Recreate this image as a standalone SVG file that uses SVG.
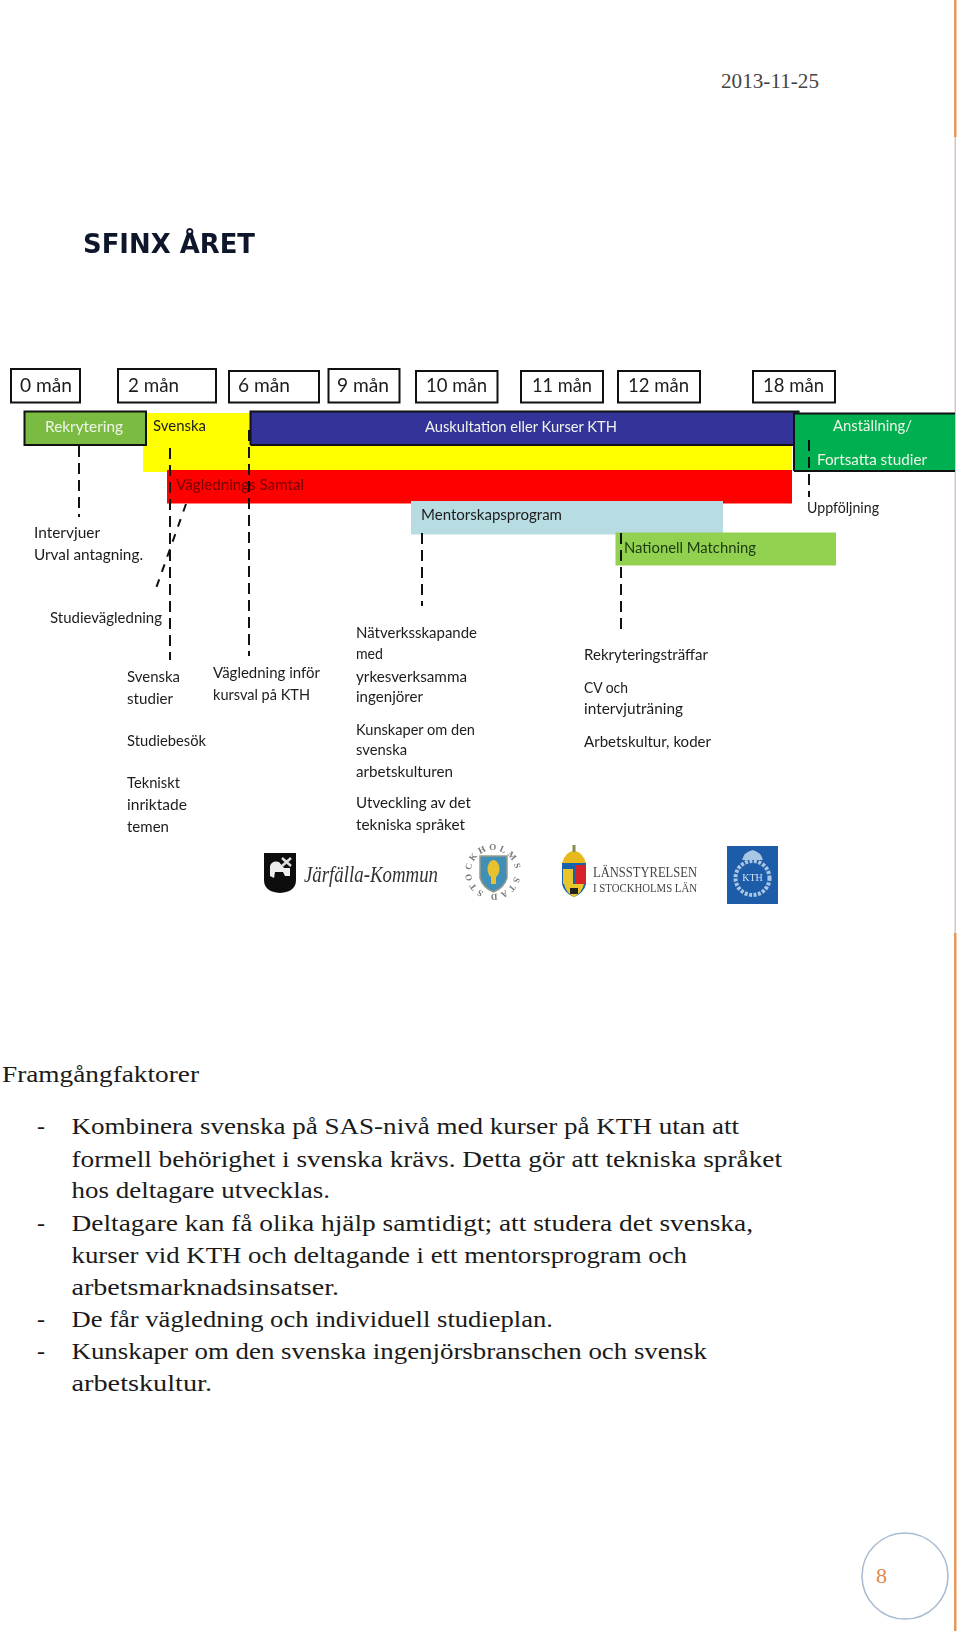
<svg xmlns="http://www.w3.org/2000/svg" xmlns:xlink="http://www.w3.org/1999/xlink" width="960" height="1631" viewBox="0 0 960 1631">
<style>
.body{font-family:"Liberation Serif","Times New Roman",serif;font-size:24px;fill:#1a1a1a}
.c{font-family:Lato,"Open Sans","Liberation Sans",sans-serif;font-size:16px;fill:#1c1c1c}
.m{font-size:19px}
.w{fill:#eef5e8}
.box{fill:#fff;stroke:#111;stroke-width:2}
.dash{fill:none;stroke:#111;stroke-width:2;stroke-dasharray:11 6}
</style>
<defs>
<filter id="soft" x="-5%" y="-20%" width="110%" height="140%"><feGaussianBlur stdDeviation="0.5"/></filter>
<filter id="soft2" x="-5%" y="-5%" width="110%" height="110%"><feGaussianBlur stdDeviation="0.7"/></filter>
<path id="sealring" d="M471 872a22 22 0 1 1 44 0a22 22 0 1 1 -44 0"/>
</defs>
<rect width="960" height="1631" fill="#fff"/>
<g id="page-rule">
<rect x="954.500" y="137" width="1.500" height="796" fill="#d9c6b8"/>
<rect x="954" y="0" width="2.500" height="137" fill="#e8975a"/>
<rect x="954" y="933" width="2.500" height="698" fill="#e8975a"/>
</g>
<text id="date" x="721" y="88" textLength="98" lengthAdjust="spacingAndGlyphs" style="font-family:'Liberation Serif',serif;font-size:20px;fill:#444">2013-11-25</text>
<text id="title" x="83" y="253" textLength="172" lengthAdjust="spacingAndGlyphs" filter="url(#soft)" style="font-family:'DejaVu Sans',sans-serif;font-weight:700;font-size:27px;fill:#10182c">SFINX ÅRET</text>

<g id="months">
<g id="m0"><rect class="box" x="11" y="369" width="69" height="33.500"/><text class="c m" x="20" y="392" textLength="52" lengthAdjust="spacingAndGlyphs" filter="url(#soft)">0 mån</text></g>
<g id="m2"><rect class="box" x="118" y="369" width="98" height="33.500"/><text class="c m" x="128" y="392" textLength="51" lengthAdjust="spacingAndGlyphs" filter="url(#soft)">2 mån</text></g>
<g id="m6"><rect class="box" x="229" y="371" width="90" height="31.500"/><text class="c m" x="238" y="392" textLength="52" lengthAdjust="spacingAndGlyphs" filter="url(#soft)">6 mån</text></g>
<g id="m9"><rect class="box" x="328.500" y="369" width="71" height="33.500"/><text class="c m" x="337" y="392" textLength="52" lengthAdjust="spacingAndGlyphs" filter="url(#soft)">9 mån</text></g>
<g id="m10"><rect class="box" x="416" y="371" width="81.500" height="31.500"/><text class="c m" x="426" y="392" textLength="61" lengthAdjust="spacingAndGlyphs" filter="url(#soft)">10 mån</text></g>
<g id="m11"><rect class="box" x="521" y="371" width="82" height="31.500"/><text class="c m" x="532" y="392" textLength="60" lengthAdjust="spacingAndGlyphs" filter="url(#soft)">11 mån</text></g>
<g id="m12"><rect class="box" x="618" y="371" width="82" height="31.500"/><text class="c m" x="628" y="392" textLength="61" lengthAdjust="spacingAndGlyphs" filter="url(#soft)">12 mån</text></g>
<g id="m18"><rect class="box" x="753" y="371" width="82" height="31.500"/><text class="c m" x="763" y="392" textLength="61" lengthAdjust="spacingAndGlyphs" filter="url(#soft)">18 mån</text></g>
</g>

<g id="bars">
<g id="svenska"><path d="M146 413H250V445H792V470H167V472H143V445H146Z" fill="#ffff00"/><text class="c" x="153" y="431" textLength="53" lengthAdjust="spacingAndGlyphs" filter="url(#soft)">Svenska</text></g>
<g id="vagledning"><rect x="167" y="470" width="625" height="33.500" fill="#ff0000"/><text class="c" x="176" y="490" textLength="128" lengthAdjust="spacingAndGlyphs" filter="url(#soft)" style="fill:#700">Väglednings Samtal</text></g>
<g id="mentor"><rect x="411" y="501" width="312" height="33.500" fill="#b7dde3"/><text class="c" x="421" y="520" textLength="141" lengthAdjust="spacingAndGlyphs" filter="url(#soft)">Mentorskapsprogram</text></g>
<g id="matchning"><rect x="615.500" y="532.500" width="220.500" height="33" fill="#92d050"/><text class="c" x="624" y="553" textLength="132" lengthAdjust="spacingAndGlyphs" filter="url(#soft)" style="fill:#1b3a10">Nationell Matchning</text></g>
<g id="rekrytering"><rect x="24.500" y="411.500" width="121.500" height="33.500" fill="#7cbb42" stroke="#111" stroke-width="2"/><text class="c w" x="45" y="432" textLength="78" lengthAdjust="spacingAndGlyphs" filter="url(#soft)">Rekrytering</text></g>
<g id="auskultation"><rect x="250.500" y="411.500" width="549" height="33.500" fill="#333399"/><path d="M250.500 445V411.500H799.500M250.500 445H793" fill="none" stroke="#111" stroke-width="2"/><text class="c w" x="425" y="432" textLength="192" lengthAdjust="spacingAndGlyphs" filter="url(#soft)">Auskultation eller Kurser KTH</text></g>
<g id="anstallning"><rect x="794" y="413.500" width="161" height="57.500" fill="#00b050"/><path d="M794 471V413.500H955M794 471H955" fill="none" stroke="#111" stroke-width="2"/><text class="c w" x="833" y="431" textLength="79" lengthAdjust="spacingAndGlyphs" filter="url(#soft)">Anställning/</text><text class="c w" x="817" y="465" textLength="110" lengthAdjust="spacingAndGlyphs" filter="url(#soft)">Fortsatta studier</text></g>
</g>

<g id="connectors">
<path class="dash" d="M79 446V517"/>
<path class="dash" d="M170 448V660"/>
<path class="dash" d="M249 430V656"/>
<path class="dash" d="M186 504L154 594" style="stroke-dasharray:8 8"/>
<path class="dash" d="M422 533V606"/>
<path class="dash" d="M621 533V634"/>
<path class="dash" d="M809 440V497"/>
</g>

<g id="labels" filter="url(#soft)">
<text class="c" x="807" y="513" textLength="72" lengthAdjust="spacingAndGlyphs">Uppföljning</text>
<text class="c" x="34" y="538" textLength="66" lengthAdjust="spacingAndGlyphs">Intervjuer</text>
<text class="c" x="34" y="560" textLength="109" lengthAdjust="spacingAndGlyphs">Urval antagning.</text>
<text class="c" x="50" y="623" textLength="112" lengthAdjust="spacingAndGlyphs">Studievägledning</text>
<text class="c" x="127" y="682" textLength="53" lengthAdjust="spacingAndGlyphs">Svenska</text>
<text class="c" x="127" y="704" textLength="46" lengthAdjust="spacingAndGlyphs">studier</text>
<text class="c" x="127" y="746" textLength="79" lengthAdjust="spacingAndGlyphs">Studiebesök</text>
<text class="c" x="127" y="788" textLength="53" lengthAdjust="spacingAndGlyphs">Tekniskt</text>
<text class="c" x="127" y="810" textLength="60" lengthAdjust="spacingAndGlyphs">inriktade</text>
<text class="c" x="127" y="832" textLength="42" lengthAdjust="spacingAndGlyphs">temen</text>
<text class="c" x="213" y="678" textLength="107" lengthAdjust="spacingAndGlyphs">Vägledning inför</text>
<text class="c" x="213" y="700" textLength="97" lengthAdjust="spacingAndGlyphs">kursval på KTH</text>
<text class="c" x="356" y="638" textLength="121" lengthAdjust="spacingAndGlyphs">Nätverksskapande</text>
<text class="c" x="356" y="659" textLength="27" lengthAdjust="spacingAndGlyphs">med</text>
<text class="c" x="356" y="682" textLength="111" lengthAdjust="spacingAndGlyphs">yrkesverksamma</text>
<text class="c" x="356" y="702" textLength="67" lengthAdjust="spacingAndGlyphs">ingenjörer</text>
<text class="c" x="356" y="735" textLength="119" lengthAdjust="spacingAndGlyphs">Kunskaper om den</text>
<text class="c" x="356" y="755" textLength="51" lengthAdjust="spacingAndGlyphs">svenska</text>
<text class="c" x="356" y="777" textLength="97" lengthAdjust="spacingAndGlyphs">arbetskulturen</text>
<text class="c" x="356" y="808" textLength="115" lengthAdjust="spacingAndGlyphs">Utveckling av det</text>
<text class="c" x="356" y="830" textLength="109" lengthAdjust="spacingAndGlyphs">tekniska språket</text>
<text class="c" x="584" y="660" textLength="124" lengthAdjust="spacingAndGlyphs">Rekryteringsträffar</text>
<text class="c" x="584" y="693" textLength="44" lengthAdjust="spacingAndGlyphs">CV och</text>
<text class="c" x="584" y="714" textLength="99" lengthAdjust="spacingAndGlyphs">intervjuträning</text>
<text class="c" x="584" y="747" textLength="127" lengthAdjust="spacingAndGlyphs">Arbetskultur, koder</text>
</g>

<g id="logo-jarfalla" filter="url(#soft)">
<path d="M264 853H296V880Q296 892 280 893Q264 892 264 880Z" fill="#111"/>
<path d="M270 876V866Q272 860 279 862L284 868H290V876H285L283 872H275L274 878Z" fill="#eee"/>
<path d="M282 858L291 866M291 858L282 866" stroke="#ddd" stroke-width="2.500"/>
<text x="304" y="882" textLength="134" lengthAdjust="spacingAndGlyphs" style="font-family:'Liberation Serif',serif;font-style:italic;font-size:24px;fill:#333">Järfälla-Kommun</text>
</g>
<g id="logo-stockholm" filter="url(#soft2)">
<path d="M480 856H507V878Q504 888 493.500 892Q483 888 480 878Z" fill="#3f8fb8" stroke="#9a9a8a" stroke-width="1.500"/>
<ellipse cx="493.500" cy="869" rx="6" ry="9" fill="#e7c22e"/>
<rect x="491" y="877" width="5" height="7" fill="#e7c22e"/>
<text style="font-family:'Liberation Serif',serif;font-size:9px;font-weight:700;fill:#777" transform="rotate(-65 493 872)"><textPath xlink:href="#sealring" href="#sealring" textLength="130">STOCKHOLMS STAD</textPath></text>
</g>
<g id="logo-lansstyrelsen" filter="url(#soft)">
<path d="M562 863Q566 851 574 851Q582 851 586 863Z" fill="#e8b91e"/>
<rect x="572.500" y="845" width="3" height="7" fill="#8d8a4e"/>
<path d="M562 863H586V884Q584 893 574 897Q564 893 562 884Z" fill="#1763ab"/>
<rect x="563" y="869" width="10" height="15" fill="#e8c52a"/>
<rect x="575" y="865" width="11" height="19" fill="#d8232a"/>
<path d="M564 884H584Q582 893 574 897Q566 893 564 884Z" fill="#e8c52a"/>
<path d="M570 888H578V894H570Z" fill="#222"/>
<text x="593" y="877" textLength="104" lengthAdjust="spacingAndGlyphs" style="font-family:'Liberation Serif',serif;font-size:15px;fill:#444">LÄNSSTYRELSEN</text>
<text x="593" y="892" textLength="104" lengthAdjust="spacingAndGlyphs" style="font-family:'Liberation Serif',serif;font-size:13px;fill:#444">I STOCKHOLMS LÄN</text>
</g>
<g id="logo-kth" filter="url(#soft)">
<rect x="727" y="846" width="51" height="58" fill="#1d5ba8"/>
<circle cx="752.500" cy="878" r="17" fill="none" stroke="#a9c6e4" stroke-width="4" stroke-dasharray="3 1.500"/>
<path d="M742 860Q744 852 752.500 850Q761 852 763 860Z" fill="#a9c6e4"/>
<text x="752.500" y="881" text-anchor="middle" style="font-family:'Liberation Serif',serif;font-size:10px;fill:#cfe0f2">KTH</text>
</g>

<g id="body-text">
<text class="body" x="2" y="1082" textLength="197" lengthAdjust="spacingAndGlyphs">Framgångfaktorer</text>
<text class="body" x="37" y="1134">-</text>
<text class="body" x="71.500" y="1134" textLength="667.500" lengthAdjust="spacingAndGlyphs">Kombinera svenska på SAS-nivå med kurser på KTH utan att</text>
<text class="body" x="71.500" y="1166.500" textLength="710.500" lengthAdjust="spacingAndGlyphs">formell behörighet i svenska krävs. Detta gör att tekniska språket</text>
<text class="body" x="71.500" y="1198" textLength="258.500" lengthAdjust="spacingAndGlyphs">hos deltagare utvecklas.</text>
<text class="body" x="37" y="1231">-</text>
<text class="body" x="71.500" y="1231" textLength="681.500" lengthAdjust="spacingAndGlyphs">Deltagare kan få olika hjälp samtidigt; att studera det svenska,</text>
<text class="body" x="71.500" y="1263" textLength="615.500" lengthAdjust="spacingAndGlyphs">kurser vid KTH och deltagande i ett mentorsprogram och</text>
<text class="body" x="71.500" y="1295" textLength="267.500" lengthAdjust="spacingAndGlyphs">arbetsmarknadsinsatser.</text>
<text class="body" x="37" y="1327">-</text>
<text class="body" x="71.500" y="1327" textLength="481.500" lengthAdjust="spacingAndGlyphs">De får vägledning och individuell studieplan.</text>
<text class="body" x="37" y="1359">-</text>
<text class="body" x="71.500" y="1359" textLength="635.500" lengthAdjust="spacingAndGlyphs">Kunskaper om den svenska ingenjörsbranschen och svensk</text>
<text class="body" x="71.500" y="1391" textLength="140.500" lengthAdjust="spacingAndGlyphs">arbetskultur.</text>
</g>

<g id="page-number">
<circle cx="905" cy="1576" r="43" fill="#fff" stroke="#a9bccf" stroke-width="1.500"/>
<text x="876" y="1583" style="font-family:'Liberation Serif',serif;font-size:22px;fill:#e08a4a">8</text>
</g>
</svg>
